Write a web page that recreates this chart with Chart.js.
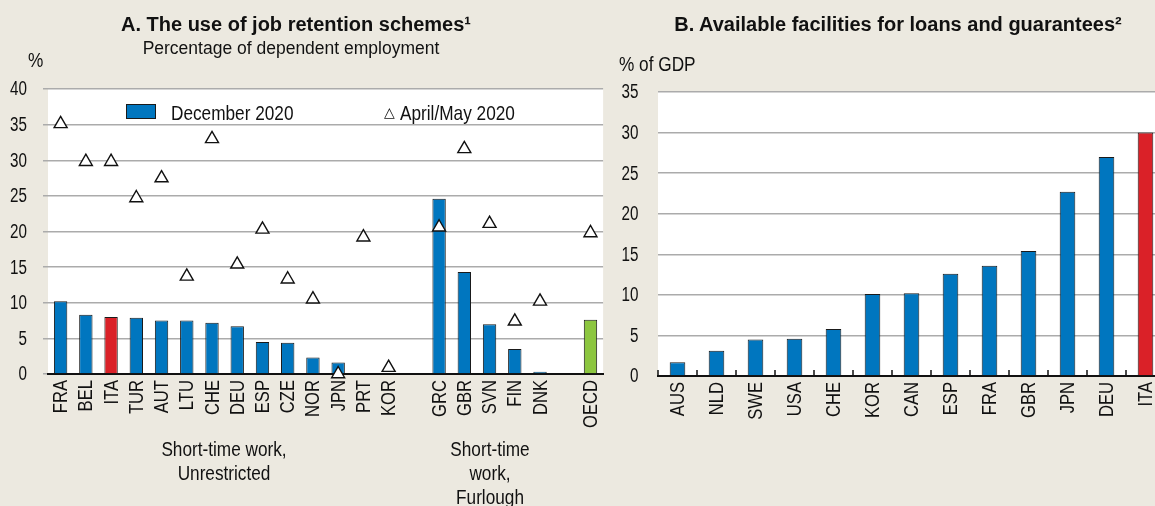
<!DOCTYPE html>
<html>
<head>
<meta charset="utf-8">
<script src="https://cdn.jsdelivr.net/npm/chart.js@4.4.1/dist/chart.umd.min.js"></script>
<style>
    html, body { margin: 0; padding: 0; width: 1155px; height: 506px; overflow: hidden; background: #ECE9E0; }
    body { position: relative; font-family: 'Liberation Sans', Arial, sans-serif; color: #111; }
    canvas { position: absolute; top: 0; }
    #chartA { left: 0; }
    #chartB { left: 612px; }
    .txt { position: absolute; white-space: nowrap; line-height: 1; }
    .title { font-weight: bold; font-size: 20px; transform: translateX(-50%); }
    .sub { font-size: 17.5px; transform: translateX(-50%); }
    .narrow { font-size: 21px; transform-origin: 0 0; transform: scaleX(0.82); }
    .grp { font-size: 20px; line-height: 24px; text-align: center; transform: translateX(-50%) scaleX(0.86); }
    .key { position: absolute; width: 30px; height: 15px; background: #0076BF; border: 1px solid #1a1a1a; box-sizing: border-box; }
    .tri { font-family: 'DejaVu Sans', sans-serif; font-size: 14px; }
</style>
</head>
<body>
<canvas id="chartA" width="612" height="506"></canvas>
<canvas id="chartB" width="560" height="506"></canvas>

<div class="txt title" style="left:296px; top:14px;">A. The use of job retention schemes¹</div>
<div class="txt sub" style="left:291px; top:40px;">Percentage of dependent employment</div>
<div class="txt narrow" style="left:28px; top:49px;">%</div>

<div class="key" style="left:126px; top:104px;"></div>
<div class="txt narrow" style="left:171px; top:102px;">December 2020</div>
<div class="txt tri" style="left:384px; top:105px;">△</div>
<div class="txt narrow" style="left:400px; top:102px;">April/May 2020</div>

<div class="txt grp" style="left:224px; top:437px;">Short-time work,<br>Unrestricted</div>
<div class="txt grp" style="left:490px; top:437px;">Short-time<br>work,<br>Furlough</div>

<div class="txt title" style="left:898px; top:14px;">B. Available facilities for loans and guarantees²</div>
<div class="txt narrow" style="left:619px; top:53px;">% of GDP</div>

<script>
// Panel A: job retention schemes
const catsA = ['FRA', 'BEL', 'ITA', 'TUR', 'AUT', 'LTU', 'CHE', 'DEU', 'ESP', 'CZE', 'NOR', 'JPN', 'PRT', 'KOR', '',
               'GRC', 'GBR', 'SVN', 'FIN', 'DNK', '', 'OECD'];
const dec2020 = [10.2, 8.3, 8.0, 7.9, 7.5, 7.5, 7.2, 6.7, 4.5, 4.4, 2.3, 1.6, null, null, null,
                 24.6, 14.3, 7.0, 3.5, 0.3, null, 7.6];
const aprMay2020 = [35.1, 29.8, 29.8, 24.7, 27.5, 13.7, 33.0, 15.4, 20.3, 13.3, 10.5, 0, 19.2, 0.9, null,
                    20.6, 31.6, 21.1, 7.4, 10.2, null, 19.8];
const ticksA = [0, 5, 10, 15, 20, 25, 30, 35, 40];

// Panel B: loans and guarantees
const catsB = ['AUS', 'NLD', 'SWE', 'USA', 'CHE', 'KOR', 'CAN', 'ESP', 'FRA', 'GBR', 'JPN', 'DEU', 'ITA'];
const facilities = [1.7, 3.1, 4.5, 4.6, 5.8, 10.1, 10.2, 12.6, 13.6, 15.4, 22.7, 27.0, 30.0];
const ticksB = [0, 5, 10, 15, 20, 25, 30, 35];

const BLUE = '#0076BF';
const RED = '#DA2128';
const GREEN = '#8CC63F';
const GRID = '#ABABAB';
const FONT = "'Liberation Sans', Arial, sans-serif";

Chart.defaults.font.family = FONT;
Chart.defaults.color = '#111';
Chart.defaults.animation = false;

// white plot background
const plotBg = {
    id: 'plotBg',
    beforeDraw(chart) {
        const a = chart.chartArea, ctx = chart.ctx;
        ctx.save();
        ctx.fillStyle = '#fff';
        ctx.fillRect(a.left, a.top, a.right - a.left, a.bottom - a.top);
        ctx.restore();
    }
};

// small tick marks pointing up from the x axis, between categories
const innerTicks = {
    id: 'innerTicks',
    afterDatasetsDraw(chart) {
        const x = chart.scales.x, ctx = chart.ctx, bottom = chart.chartArea.bottom;
        const half = (x.getPixelForValue(1) - x.getPixelForValue(0)) / 2;
        ctx.save();
        ctx.strokeStyle = '#111';
        ctx.lineWidth = 1.5;
        for (let i = 0; i <= x.getLabels().length; i++) {
            const px = x.getPixelForValue(i) - half;
            ctx.beginPath();
            ctx.moveTo(px, bottom);
            ctx.lineTo(px, bottom - 6);
            ctx.stroke();
        }
        ctx.restore();
    }
};

// tick labels in a condensed look (the source uses a narrow font)
function narrowLabels(yPad) {
    return {
        id: 'narrowLabels',
        beforeDatasetsDraw(chart) {
            const ctx = chart.ctx, a = chart.chartArea;
            const xs = chart.scales.x, ys = chart.scales.y;
            ctx.save();
            ctx.fillStyle = '#111';
            ctx.textAlign = 'right';
            ctx.textBaseline = 'middle';

            ctx.font = '19.5px ' + FONT;
            ys.ticks.forEach(t => {
                ctx.save();
                ctx.translate(a.left - yPad, ys.getPixelForValue(t.value) + 1);
                ctx.scale(0.78, 1);
                ctx.fillText(String(t.value), 0, 0);
                ctx.restore();
            });

            ctx.font = '20px ' + FONT;
            xs.getLabels().forEach((lab, i) => {
                if (!lab) return;
                ctx.save();
                ctx.translate(xs.getPixelForValue(i) + 1, a.bottom + 6);
                ctx.rotate(-Math.PI / 2);
                ctx.scale(0.83, 1);
                ctx.fillText(lab, 0, 0);
                ctx.restore();
            });
            ctx.restore();
        }
    };
}

function yScale(max, ticks, width, tickLen) {
    return {
        min: 0, max: max,
        afterBuildTicks: s => { s.ticks = ticks.map(v => ({ value: v })); },
        afterFit: s => { s.width = width; },
        grid: { color: GRID, lineWidth: 1.5, tickLength: tickLen, drawTicks: tickLen > 0 },
        border: { display: false },
        ticks: { display: false }
    };
}

function xScale(height) {
    return {
        afterFit: s => { s.height = height; },
        grid: { display: false },
        border: { display: true, color: '#111', width: 2 },
        ticks: { display: false }
    };
}

function buildChartA() {
    const ctx = document.getElementById('chartA').getContext('2d');
    const colors = catsA.map(c => c === 'ITA' ? RED : (c === 'OECD' ? GREEN : BLUE));
    new Chart(ctx, {
        type: 'bar',
        data: {
            labels: catsA,
            datasets: [{
                type: 'line',
                label: 'April/May 2020',
                data: aprMay2020,
                showLine: false,
                pointStyle: 'triangle',
                pointRadius: 7.5,
                pointBackgroundColor: '#fff',
                pointBorderColor: '#111',
                pointBorderWidth: 1.4,
                clip: false,
                order: 0
            }, {
                label: 'December 2020',
                data: dec2020,
                backgroundColor: colors,
                borderColor: '#1a1a1a',
                borderWidth: 1,
                categoryPercentage: 1,
                barPercentage: 0.53,
                order: 1
            }]
        },
        options: {
            responsive: false,
            devicePixelRatio: 1,
            layout: { padding: { top: 89, right: 8, left: 0, bottom: 0 } },
            plugins: { legend: { display: false }, tooltip: { enabled: false } },
            scales: {
                x: xScale(132),
                y: yScale(40, ticksA, 48, 5)
            }
        },
        plugins: [plotBg, narrowLabels(21)]
    });
}

function buildChartB() {
    const ctx = document.getElementById('chartB').getContext('2d');
    const colors = catsB.map(c => c === 'ITA' ? RED : BLUE);
    new Chart(ctx, {
        type: 'bar',
        data: {
            labels: catsB,
            datasets: [{
                label: 'Available facilities',
                data: facilities,
                backgroundColor: colors,
                borderColor: '#1a1a1a',
                borderWidth: 1,
                categoryPercentage: 1,
                barPercentage: 0.40
            }]
        },
        options: {
            responsive: false,
            devicePixelRatio: 1,
            layout: { padding: { top: 92, right: 7, left: 0, bottom: 0 } },
            plugins: { legend: { display: false }, tooltip: { enabled: false } },
            scales: {
                x: xScale(130),
                y: yScale(35, ticksB, 46, 0)
            }
        },
        plugins: [plotBg, narrowLabels(19.5), innerTicks]
    });
}

document.addEventListener('DOMContentLoaded', function() {
    buildChartA();
    buildChartB();
});
</script>
</body>
</html>
